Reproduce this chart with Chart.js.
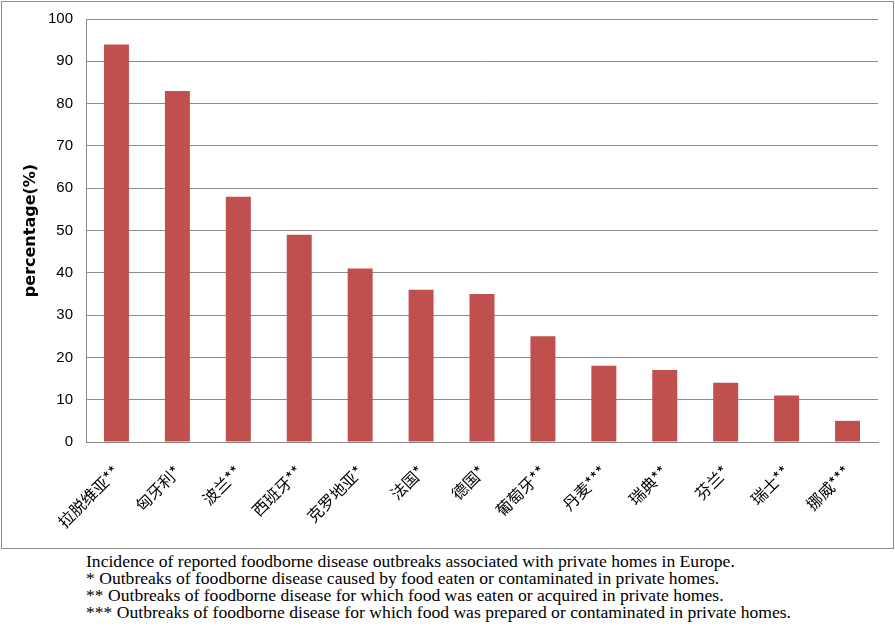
<!DOCTYPE html>
<html>
<head>
<meta charset="utf-8">
<script src="https://cdn.jsdelivr.net/npm/chart.js@4"></script>
<style>
  body { margin: 0; background: #fff; }
  #frame { position: absolute; left: 1px; top: 1px; width: 891px; height: 546px; border: 1px solid #8c8c8c; }
  #wrap { position: absolute; left: 0; top: -3px; width: 895px; height: 551px; }
  #notes { position: absolute; left: 86px; top: 553px; font-family: "Liberation Serif", serif; font-size: 17.6px; line-height: 17px; color: #000; white-space: nowrap; }
</style>
</head>
<body>
<div id="frame"></div>
<div id="wrap"><canvas id="myChart" width="895" height="551"></canvas></div>
<div id="notes">
  <div>Incidence of reported foodborne disease outbreaks associated with private homes in Europe.</div>
  <div>* Outbreaks of foodborne disease caused by food eaten or contaminated in private homes.</div>
  <div>** Outbreaks of foodborne disease for which food was eaten or acquired in private homes.</div>
  <div>*** Outbreaks of foodborne disease for which food was prepared or contaminated in private homes.</div>
</div>
<script>
const countries = ['拉脱维亚**', '匈牙利*', '波兰**', '西班牙**', '克罗地亚*', '法国*', '德国*', '葡萄牙**', '丹麦***', '瑞典**', '芬兰*', '瑞士**', '挪威***'];
const percentages = [94, 83, 58, 49, 41, 36, 35, 25, 18, 17, 14, 11, 5];
const yTicks = [0, 10, 20, 30, 40, 50, 60, 70, 80, 90, 100];

const ctx = document.getElementById('myChart').getContext('2d');
const myChart = new Chart(ctx, {
  type: 'bar',
  data: {
    labels: countries,
    datasets: [{
      label: 'percentage(%)',
      data: percentages,
      backgroundColor: '#C0504D',
      barPercentage: 0.41,
      categoryPercentage: 1.0,
    }],
  },
  options: {
    responsive: false,
    animation: false,
    layout: { padding: { left: 0, right: 17, top: 16, bottom: 0 } },
    plugins: {
      legend: { display: false },
      tooltip: { enabled: false },
    },
    scales: {
      x: {
        grid: { display: false, drawTicks: false },
        border: { color: '#8c8c8c' },
        ticks: {
          color: '#000',
          font: { family: '"Noto Sans CJK SC", sans-serif', size: 16 },
          minRotation: 45,
          maxRotation: 45,
          padding: 20,
        },
        afterFit: function (scale) { scale.height = 106; },
      },
      y: {
        min: 0,
        max: 100,
        afterBuildTicks: function (scale) { scale.ticks = yTicks.map(v => ({ value: v })); },
        grid: { color: '#8c8c8c', drawTicks: false },
        border: { color: '#8c8c8c' },
        ticks: {
          color: '#000',
          font: { family: 'Arial, "Liberation Sans", sans-serif', size: 15 },
          padding: 13,
        },
        title: {
          display: true,
          text: 'percentage(%)',
          color: '#000',
          font: { family: '"DejaVu Sans", sans-serif', size: 16, weight: 'bold' },
          padding: { top: 21, bottom: 0 },
        },
        afterFit: function (scale) { scale.width = 86; },
      },
    },
  },
});
</script>
</body>
</html>
